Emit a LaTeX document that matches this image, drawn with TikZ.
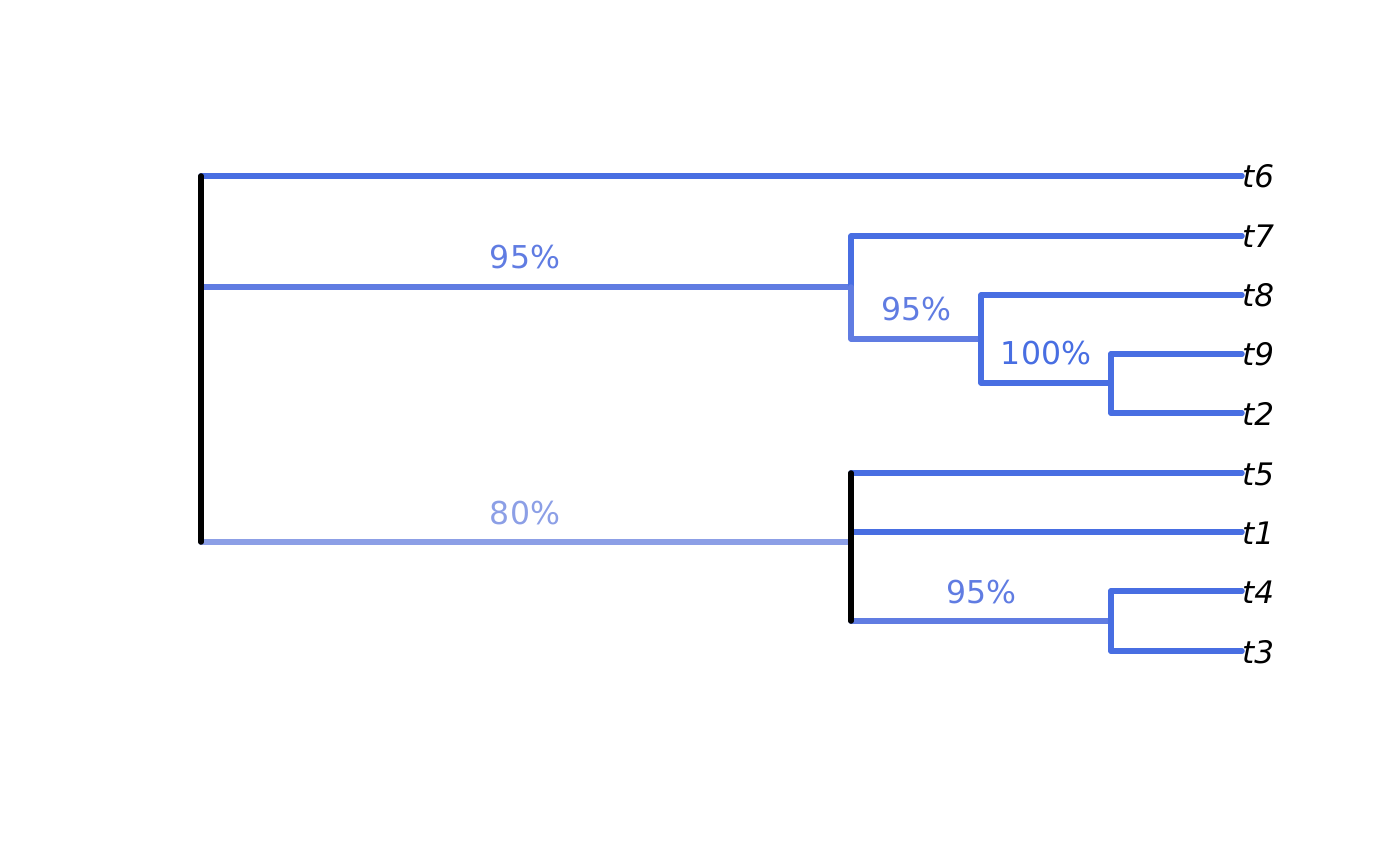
\documentclass[tikz,border=0pt]{standalone}
\usepackage{fontspec}
\setmainfont{DejaVu Sans}
\begin{document}
\definecolor{cfull}{RGB}{72,110,226}
\definecolor{cnf}{RGB}{96,124,226}
\definecolor{ceighty}{RGB}{140,159,230}
\begin{tikzpicture}[x=1pt,y=-1pt,
  br/.style={line width=5.5pt,line cap=round,line join=round},
  tip/.style={anchor=base west,inner sep=0pt,font=\fontsize{31}{36}\selectfont\itshape},
  sup/.style={anchor=base,inner sep=0pt,font=\fontsize{31.5}{36}\selectfont}]
\useasboundingbox (0,0) rectangle (1400,866);
% coordinates
\coordinate (r1) at (201,176);
\coordinate (r2) at (201,287);
\coordinate (r3) at (201,542);
\coordinate (a) at (851,287);
\coordinate (a1) at (851,236);
\coordinate (a2) at (851,339);
\coordinate (b) at (981,339);
\coordinate (b1) at (981,295);
\coordinate (b2) at (981,383);
\coordinate (c) at (1111,383);
\coordinate (c1) at (1111,354);
\coordinate (c2) at (1111,413);
\coordinate (d) at (851,542);
\coordinate (d1) at (851,473);
\coordinate (d2) at (851,532);
\coordinate (d3) at (851,621);
\coordinate (e) at (1111,621);
\coordinate (e1) at (1111,591);
\coordinate (e2) at (1111,651);
% tips
\node[tip] (t6) at (1242,188) {t6};
\node[tip] (t7) at (1242,248) {t7};
\node[tip] (t8) at (1242,307) {t8};
\node[tip] (t9) at (1242,366) {t9};
\node[tip] (t2) at (1242,425) {t2};
\node[tip] (t5) at (1242,485) {t5};
\node[tip] (t1) at (1242,544) {t1};
\node[tip] (t4) at (1242,603) {t4};
\node[tip] (t3) at (1242,663) {t3};
% edges
\draw[br,cfull] (r1) -- (t6.west |- r1);
\draw[br,cnf] (r2) -- (a);
\draw[br,ceighty] (r3) -- (d);
\draw[br,cfull] (a) -- (a1) -- (t7.west |- a1);
\draw[br,cnf] (a) -- (a2) -- (b);
\draw[br,cfull] (b) -- (b1) -- (t8.west |- b1);
\draw[br,cfull] (b) -- (b2) -- (c);
\draw[br,cfull] (c1) -- (c2);
\draw[br,cfull] (c1) -- (t9.west |- c1);
\draw[br,cfull] (c2) -- (t2.west |- c2);
\draw[br,cfull] (d1) -- (t5.west |- d1);
\draw[br,cfull] (d2) -- (t1.west |- d2);
\draw[br,cnf] (d3) -- (e);
\draw[br,cfull] (e1) -- (e2);
\draw[br,cfull] (e1) -- (t4.west |- e1);
\draw[br,cfull] (e2) -- (t3.west |- e2);
\draw[br,black] (r1) -- (r3);
\draw[br,black] (d1) -- (d3);
% support labels
\node[sup,text=cnf] (s1) at (525,269) {95\%};
\node[sup,text=cnf] (s2) at (916,321) {95\%};
\node[sup,text=cfull] (s3) at (1046,365) {100\%};
\node[sup,text=ceighty] (s4) at (525,524) {80\%};
\node[sup,text=cnf] (s5) at (981,603) {95\%};
\end{tikzpicture}
\end{document}
